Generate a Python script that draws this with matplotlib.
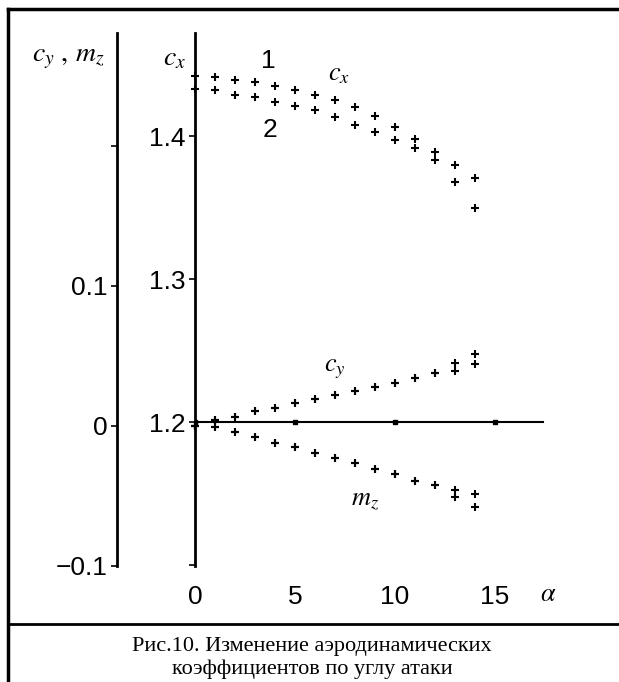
import numpy as np
import matplotlib
matplotlib.use("Agg")
import matplotlib.pyplot as plt
from matplotlib.lines import Line2D

plt.rcParams['font.family'] = ['Liberation Sans', 'DejaVu Sans']
plt.rcParams['mathtext.fontset'] = 'stix'

# angle of attack, deg
alpha = [0, 1, 2, 3, 4, 5, 6, 7, 8, 9, 10, 11, 12, 13, 14]

# c_x, variants 1 and 2
cx1 = [1.442, 1.441, 1.439, 1.438, 1.435, 1.432, 1.429, 1.425, 1.420, 1.414,
       1.406, 1.398, 1.389, 1.380, 1.371]
cx2 = [1.433, 1.432, 1.429, 1.427, 1.424, 1.421, 1.418, 1.413, 1.408, 1.403,
       1.397, 1.392, 1.383, 1.368, 1.350]

# c_y and m_z, variants 1 and 2
cy1 = [0.0, 0.004, 0.0064, 0.0105, 0.0124, 0.016, 0.0189, 0.0217, 0.0248, 0.0274,
       0.0303, 0.0339, 0.0374, 0.0446, 0.0512]
cy2 = [0.0, 0.004, 0.0064, 0.0105, 0.0124, 0.016, 0.0189, 0.0217, 0.0248, 0.0274,
       0.0303, 0.0339, 0.0374, 0.0393, 0.0439]
mz1 = [0.0, -0.0007, -0.0047, -0.0083, -0.0121, -0.0154, -0.0197, -0.0233, -0.0269,
       -0.0311, -0.0347, -0.0393, -0.0424, -0.0459, -0.0488]
mz2 = [0.0, -0.0007, -0.0047, -0.0083, -0.0121, -0.0154, -0.0197, -0.0233, -0.0269,
       -0.0311, -0.0347, -0.0393, -0.0424, -0.0507, -0.0579]

x_ticks = [0, 5, 10, 15]
cx_ticks = [1.1, 1.2, 1.3, 1.4]
cx_labels = ['', '1.2', '1.3', '1.4']
cy_ticks = [-0.1, 0.0, 0.1, 0.2]
cy_labels = ['\u22120.1', '0', '0.1', '']

W, H = 619, 682
fig = plt.figure(figsize=(W / 100, H / 100), dpi=100)

# axes box in pixels (left, right, top, bottom)
L, R, T, B = 195, 545, 33, 566
ax = fig.add_axes([L / W, 1 - B / H, (R - L) / W, (B - T) / H])
ax.set_xlim(0, 17.5)
ax.set_ylim(1.0996, 1.4720)

ax2 = ax.twinx()
ax2.set_ylim(-0.1002, 0.2805)

for a in (ax, ax2):
    for s in a.spines.values():
        s.set_visible(False)

ax.spines['left'].set_visible(True)
ax.spines['left'].set_linewidth(2)
ax2.spines['left'].set_visible(True)
ax2.spines['left'].set_linewidth(2)
ax2.spines['left'].set_position(('outward', (L - 117) * 0.72))
ax2.yaxis.tick_left()

ax.set_yticks(cx_ticks)
ax.set_yticklabels(cx_labels)
ax2.set_yticks(cy_ticks)
ax2.set_yticklabels(cy_labels)
ax.tick_params(axis='y', direction='out', length=4, width=1.2, labelsize=19, pad=3)
ax2.tick_params(axis='y', direction='out', length=4, width=1.2, labelsize=19, pad=3)

ax.set_xticks(x_ticks)
ax.tick_params(axis='x', length=0, labelsize=19, pad=14)

# alpha axis line with square tick marks
ax.plot([0, 17.4], [1.2, 1.2], color='black', lw=1.5)
ax.plot(x_ticks, [1.2] * len(x_ticks), 's', color='black', ms=3.5)

mk = dict(marker='+', ls='none', color='black', ms=6, mew=1.5, clip_on=False)
ax.plot(alpha, cx1, **mk)
ax.plot(alpha, cx2, **mk)
ax2.plot(alpha, cy1, **mk)
ax2.plot(alpha, cy2, **mk)
ax2.plot(alpha, mz1, **mk)
ax2.plot(alpha, mz2, **mk)

ax.text(3.65, 1.4524, '1', fontsize=19, ha='center', va='center')
ax.text(3.75, 1.4043, '2', fontsize=19, ha='center', va='center')
ax.text(7.2, 1.4433, r'$c_x$', fontsize=19, ha='center', va='center')
ax2.text(7.0, 0.0405, r'$c_y$', fontsize=19, ha='center', va='center')
ax2.text(8.5, -0.053, r'$m_z$', fontsize=19, ha='center', va='center')

fig.text(68 / W, 1 - 58 / H, r'$c_y\ ,\,m_z$', fontsize=20, ha='center', va='center')
fig.text(175 / W, 1 - 58 / H, r'$c_x$', fontsize=20, ha='center', va='center')
fig.text(548 / W, 1 - 594 / H, r'$\alpha$', fontsize=19, ha='center', va='center')

# frame and caption
sep = 624
fig.add_artist(Line2D([8 / W, 1], [1 - 9 / H, 1 - 9 / H], color='black', lw=2.5))
fig.add_artist(Line2D([8 / W, 8 / W], [1 - 9 / H, 0], color='black', lw=2.5))
fig.add_artist(Line2D([8 / W, 1], [1 - sep / H, 1 - sep / H], color='black', lw=2))
fig.text(312 / W, 1 - 647 / H, 'Рис.10. Изменение аэродинамических',
         family='Liberation Serif', fontsize=16, ha='center', va='center')
fig.text(312 / W, 1 - 669 / H, 'коэффициентов по углу атаки',
         family='Liberation Serif', fontsize=16, ha='center', va='center')

fig.savefig('out.png', dpi=100)
